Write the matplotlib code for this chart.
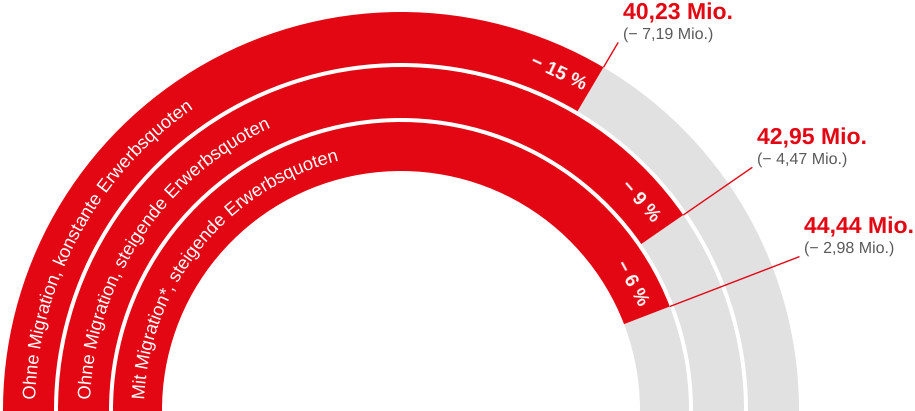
import matplotlib
matplotlib.use('Agg')
import matplotlib.pyplot as plt
import matplotlib.patheffects as pe
from matplotlib.patches import Wedge
from matplotlib.font_manager import FontProperties, findfont
from matplotlib.ft2font import FT2Font
from matplotlib.textpath import TextPath
import numpy as np

plt.rcParams['text.hinting'] = 'no_hinting'
plt.rcParams['text.hinting_factor'] = 1

# ---------------- data ----------------
scenarios = ["Ohne Migration, konstante Erwerbsquoten",
             "Ohne Migration, steigende Erwerbsquoten",
             "Mit Migration*, steigende Erwerbsquoten"]
values = [40.23, 42.95, 44.44]          # Mio. Erwerbspersonen
changes = [-7.19, -4.47, -2.98]         # Mio. Veränderung
percent = [-15, -9, -6]                 # Veränderung in %
value_labels = ["40,23 Mio.", "42,95 Mio.", "44,44 Mio."]
change_labels = ["(− 7,19 Mio.)", "(− 4,47 Mio.)", "(− 2,98 Mio.)"]
percent_labels = ["− 15 %", "− 9 %", "− 6 %"]

# angular scale: value at the left end (180°) and at the right end (0°)
SCALE_LO, SCALE_HI = 27.0, 46.75

# ---------------- layout ----------------
W, H = 915, 411
DPI = 100
fig = plt.figure(figsize=(W / DPI, H / DPI), dpi=DPI)
ax = fig.add_axes([0, 0, 1, 1])
ax.set_xlim(0, W)
ax.set_ylim(0, H)
ax.axis('off')

cx, cy = 401, 1
bands = [(347, 398), (292, 343), (239, 288)]   # (inner r, outer r) per scenario
RED = '#E30613'
GRAY = '#E1E1E1'
TXT_GRAY = '#5a5a5a'
FAM = ['Liberation Sans', 'DejaVu Sans']


def end_angle(v):
    sweep = 180.0 * (v - SCALE_LO) / (SCALE_HI - SCALE_LO)
    return 180.0 - sweep


def polar(r, deg):
    t = np.deg2rad(deg)
    return cx + r * np.cos(t), cy + r * np.sin(t)


# curved text helper: one real text object per character along an arc
CURVE_SIZE = 13.2                       # pt
CURVE_PX = CURVE_SIZE * DPI / 72.0      # px == data units
fp = FontProperties(family='Liberation Sans', size=CURVE_SIZE)
ft = FT2Font(findfont(fp))
ft.set_size(CURVE_SIZE, DPI)


def advance(c):
    g = ft.load_char(ord(c))
    return g.linearHoriAdvance / 65536.0


def ink_center(c):
    ext = TextPath((0, 0), c, size=CURVE_PX, prop=fp).get_extents()
    return (ext.x0 + ext.x1) / 2.0


def curved_text(s, r, start_deg):
    pos = 0.0
    for c in s:
        a = advance(c)
        if c != ' ':
            d = pos + ink_center(c)
            th = start_deg - np.rad2deg(d / r)
            x, y = polar(r, th)
            ax.text(x, y, c, rotation=th - 90, rotation_mode='anchor',
                    ha='center', va='baseline', color='white',
                    fontsize=CURVE_SIZE, family=FAM,
                    path_effects=[pe.Normal()])
        pos += a


for i, (name, v) in enumerate(zip(scenarios, values)):
    r_in, r_out = bands[i]
    width = r_out - r_in
    e = end_angle(v)
    # gray track
    ax.add_patch(Wedge((cx, cy), r_out, -3, e, width=width,
                       facecolor=GRAY, edgecolor='none'))
    # red value bar
    ax.add_patch(Wedge((cx, cy), r_out, e, 183, width=width,
                       facecolor=RED, edgecolor='none'))
    # curved scenario label
    mid = (r_in + r_out) / 2.0
    r_txt = mid - 6.5
    curved_text(name, r_txt, 180 - np.rad2deg(10.0 / r_txt))
    # percent label
    th = e + np.rad2deg(36.0 / mid)
    px, py = polar(mid, th)
    ax.text(px, py, percent_labels[i], rotation=th - 90, rotation_mode='anchor',
            ha='center', va='center', color='white', fontsize=14,
            fontweight='bold', family=FAM)
    # leader line
    x0, y0 = polar(r_out, e)
    x1, y1 = polar(427, e)
    ax.plot([x0, x1], [y0, y1], color=RED, lw=1.0, solid_capstyle='butt')
    # value labels
    ax.text(x1 + 5, y1 + 4, change_labels[i], ha='left', va='baseline',
            color=TXT_GRAY, fontsize=11.5, family=FAM)
    ax.text(x1 + 5, y1 + 23, value_labels[i], ha='left', va='baseline',
            color=RED, fontsize=16.5, fontweight='bold', family=FAM)

fig.savefig('out.png', dpi=DPI, facecolor='white')
